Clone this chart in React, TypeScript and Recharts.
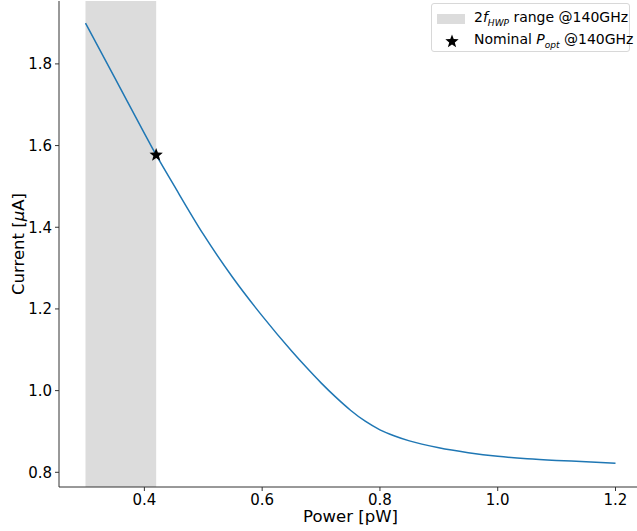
import React from 'react';
import {
  ComposedChart,
  Line,
  Scatter,
  XAxis,
  YAxis,
  ReferenceArea,
  Label,
} from 'recharts';

// Curve
const POWER = [0.3, 0.35, 0.4, 0.42, 0.45, 0.5, 0.55, 0.6, 0.65, 0.675, 0.7, 0.725, 0.75, 0.775, 0.8, 0.825, 0.85, 0.9, 0.95, 1.0, 1.05, 1.1, 1.15, 1.2];
const CURRENT = [1.9, 1.765, 1.63, 1.577, 1.503, 1.383, 1.277, 1.183, 1.097, 1.057, 1.019, 0.984, 0.952, 0.925, 0.904, 0.889, 0.877, 0.86, 0.848, 0.839, 0.833, 0.829, 0.826, 0.822];

const BAND = [0.3, 0.42];
const NOMINAL = [{ x: 0.42, y: 1.577 }];

const X_TICKS = [0.4, 0.6, 0.8, 1.0, 1.2];
const Y_TICKS = [0.8, 1.0, 1.2, 1.4, 1.6, 1.8];

const curveData = POWER.map((p, i) => ({ x: p, y: CURRENT[i] }));

const FONT = 'DejaVu Sans, sans-serif';
const AXIS = '#333';

function starPath(cx: number, cy: number, r: number) {
  const inner = r * 0.42;
  let d = '';
  for (let i = 0; i < 10; i++) {
    const rad = i % 2 === 0 ? r : inner;
    const a = -Math.PI / 2 + (i * Math.PI) / 5;
    d += (i === 0 ? 'M' : 'L') + (cx + rad * Math.cos(a)) + ',' + (cy + rad * Math.sin(a));
  }
  return d + 'Z';
}

const StarShape = (props: any) => (
  <path d={starPath(props.cx, props.cy, 7)} fill="#000" />
);

const CurrentLabel = (props: any) => {
  const vb = props.viewBox || {};
  const cy = vb.y + vb.height / 2;
  const cx = 18;
  return (
    <text
      x={cx}
      y={cy}
      transform={`rotate(-90, ${cx}, ${cy})`}
      textAnchor="middle"
      dominantBaseline="central"
      fontSize={16.5}
      fontFamily={FONT}
      fill="#000"
    >
      Current [<tspan fontStyle="italic">μ</tspan>A]
    </text>
  );
};

export default function App() {
  return (
    <div
      style={{
        position: 'absolute',
        top: 0,
        left: 0,
        width: 637,
        height: 531,
        overflow: 'hidden',
        background: '#fff',
        fontFamily: FONT,
      }}
    >
      <ComposedChart
        width={660}
        height={531}
        data={curveData}
        margin={{ top: 1, right: 18, left: 0, bottom: 0 }}
      >
        <XAxis
          dataKey="x"
          type="number"
          domain={[0.255, 1.245]}
          ticks={X_TICKS}
          tickFormatter={(v) => v.toFixed(1)}
          height={44}
          stroke={AXIS}
          tick={{ fill: '#000', fontSize: 15, fontFamily: FONT }}
          tickSize={4}
          tickMargin={3}
          label={{ value: 'Power [pW]', position: 'insideBottom', offset: 9, fill: '#000', fontSize: 16.5, fontFamily: FONT }}
        />
        <XAxis
          xAxisId="top"
          orientation="top"
          type="number"
          domain={[0.255, 1.245]}
          tick={false}
          tickLine={false}
          height={0}
          stroke={AXIS}
        />
        <YAxis
          type="number"
          domain={[0.764, 1.954]}
          ticks={Y_TICKS}
          tickFormatter={(v) => v.toFixed(1)}
          width={59}
          stroke={AXIS}
          tick={{ fill: '#000', fontSize: 15, fontFamily: FONT }}
          tickSize={4}
          tickMargin={3}
        >
          <Label content={<CurrentLabel />} />
        </YAxis>
        <ReferenceArea x1={BAND[0]} x2={BAND[1]} fill="#dcdcdc" fillOpacity={1} stroke="none" />
        <Line
          dataKey="y"
          type="monotone"
          stroke="#1f77b4"
          strokeWidth={1.5}
          dot={false}
          isAnimationActive={false}
        />
        <Scatter data={NOMINAL} dataKey="y" shape={StarShape} isAnimationActive={false} />
      </ComposedChart>
      <div
        style={{
          position: 'absolute',
          left: 431,
          top: 3,
          width: 199,
          height: 49,
          border: '1px solid #d8d8d8',
          borderRadius: 3,
          background: 'rgba(255,255,255,0.8)',
          fontSize: 14,
          color: '#000',
          boxSizing: 'border-box',
        }}
      >
        <div style={{ position: 'absolute', left: 5, top: 10, width: 28, height: 10, background: '#dcdcdc' }} />
        <div style={{ position: 'absolute', left: 42, top: 5, whiteSpace: 'nowrap' }}>
          2<i>f</i>
          <sub style={{ fontSize: 9 }}><i>HWP</i></sub> range @140GHz
        </div>
        <svg style={{ position: 'absolute', left: 13, top: 30 }} width={14} height={14}>
          <path d={starPath(7, 7.5, 7)} fill="#000" />
        </svg>
        <div style={{ position: 'absolute', left: 42, top: 27, whiteSpace: 'nowrap' }}>
          Nominal <i>P</i>
          <sub style={{ fontSize: 9 }}><i>opt</i></sub> @140GHz
        </div>
      </div>
    </div>
  );
}
